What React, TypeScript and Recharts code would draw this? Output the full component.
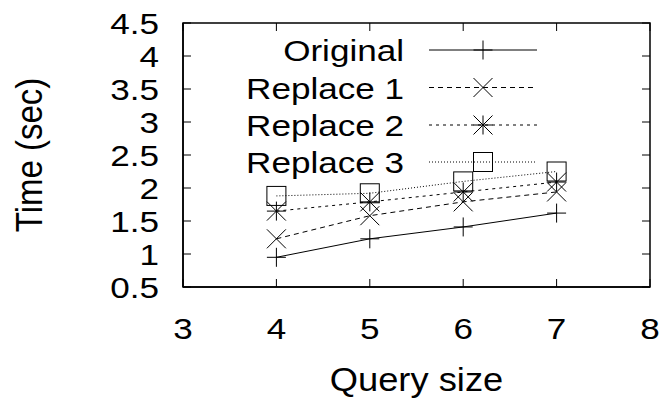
import React from 'react';
import { LineChart, Line, XAxis, YAxis, ReferenceArea } from 'recharts';

const querySizes = [4, 5, 6, 7];
const original = [0.95, 1.23, 1.41, 1.62];
const replace1 = [1.23, 1.58, 1.79, 1.94];
const replace2 = [1.65, 1.79, 1.94, 2.09];
const replace3 = [1.88, 1.92, 2.1, 2.25];
const xTicks = [3, 4, 5, 6, 7, 8];
const yTicks = [0.5, 1, 1.5, 2, 2.5, 3, 3.5, 4, 4.5];
const seriesNames = ['Original', 'Replace 1', 'Replace 2', 'Replace 3'];
const seriesKeys = ['original', 'replace1', 'replace2', 'replace3'];

const data = querySizes.map((q, i) => ({
  q,
  original: original[i],
  replace1: replace1[i],
  replace2: replace2[i],
  replace3: replace3[i],
}));

const W = 668;
const H = 403;
const MT = 23;
const MR = 18;
const XH = 116;
const YW = 183;
const PH = H - MT - XH;
const PW = W - MR - YW;

const FONT = 'Liberation Sans, Arial, Helvetica, sans-serif';
const FS = 30;
const SX = 1.17;
const TFS = 33;
const TSX = 1.1;
const TL = 8;
const M = 9.5;

type Kind = 'plus' | 'cross' | 'star' | 'square';
const kinds: Kind[] = ['plus', 'cross', 'star', 'square'];
const dashes = [undefined, '5 4', '3 4', '1 2'];

function SText({ x, y, anchor, size, sx, children, rotate }: any) {
  const tf = `translate(${x},${y}) scale(${sx},1)${rotate ? ` rotate(${rotate})` : ''}`;
  return (
    <text x={0} y={0} transform={tf} textAnchor={anchor} fontFamily={FONT} fontSize={size} fill="#000" stroke="none">
      {children}
    </text>
  );
}

function Marker({ cx, cy, kind }: { cx: number; cy: number; kind: Kind }) {
  if (cx == null || cy == null) return null;
  const s = { stroke: '#000', strokeWidth: 1, fill: 'none' };
  if (kind === 'plus')
    return (
      <g>
        <line x1={cx - M} y1={cy} x2={cx + M} y2={cy} {...s} />
        <line x1={cx} y1={cy - M} x2={cx} y2={cy + M} {...s} />
      </g>
    );
  if (kind === 'cross')
    return (
      <g>
        <line x1={cx - M} y1={cy - M} x2={cx + M} y2={cy + M} {...s} />
        <line x1={cx - M} y1={cy + M} x2={cx + M} y2={cy - M} {...s} />
      </g>
    );
  if (kind === 'star')
    return (
      <g>
        <line x1={cx - M} y1={cy} x2={cx + M} y2={cy} {...s} />
        <line x1={cx} y1={cy - M} x2={cx} y2={cy + M} {...s} />
        <line x1={cx - M} y1={cy - M} x2={cx + M} y2={cy + M} {...s} />
        <line x1={cx - M} y1={cy + M} x2={cx + M} y2={cy - M} {...s} />
      </g>
    );
  return <rect x={cx - M} y={cy - M} width={2 * M} height={2 * M} {...s} />;
}

// Stable (module-level) dot renderers so the chart store is not updated on every render.
const dotRenderers = kinds.map((kind) => (props: any) => (
  <Marker key={`${kind}-${props.index}`} cx={props.cx} cy={props.cy} kind={kind} />
));

const BottomTick = (props: any) => {
  const { x, y, payload } = props;
  return (
    <g>
      <line x1={x} y1={y} x2={x} y2={y - TL} stroke="#000" strokeWidth={1} />
      <line x1={x} y1={y - PH} x2={x} y2={y - PH + TL} stroke="#000" strokeWidth={1} />
      <SText x={x} y={y + 52} anchor="middle" size={FS} sx={SX}>{payload.value}</SText>
    </g>
  );
};
const LeftTick = (props: any) => {
  const { x, y, payload } = props;
  return (
    <g>
      <line x1={x} y1={y} x2={x + TL} y2={y} stroke="#000" strokeWidth={1} />
      <line x1={x + PW} y1={y} x2={x + PW - TL} y2={y} stroke="#000" strokeWidth={1} />
      <SText x={x - 24} y={y + 11} anchor="end" size={FS} sx={SX}>{payload.value}</SText>
    </g>
  );
};

const YLabel = (props: any) => {
  const vb = props.viewBox || { y: MT, height: PH };
  const cy = (vb.y ?? MT) + (vb.height ?? PH) / 2;
  return <SText x={42} y={cy} anchor="middle" size={TFS} sx={TSX} rotate={-90}>Time (sec)</SText>;
};

const XLabel = (props: any) => {
  const vb = props.viewBox || { x: YW, width: PW };
  const cx = (vb.x ?? YW) + (vb.width ?? PW) / 2;
  return <SText x={cx} y={391} anchor="middle" size={TFS} sx={TSX}>Query size</SText>;
};

const bottomTickEl = <BottomTick />;
const leftTickEl = <LeftTick />;
const xLabelEl = <XLabel />;
const yLabelEl = <YLabel />;
const axisLineStyle = { stroke: '#000', strokeWidth: 1.5 };
const chartMargin = { top: MT, right: MR, left: 0, bottom: 0 };

function LegendInChart() {
  const rowY = [50, 87.5, 125, 162];
  return (
    <g className="legend-in-chart">
      {seriesNames.map((n, i) => (
        <g key={n}>
          <SText x={404} y={rowY[i] + 11} anchor="end" size={FS} sx={SX}>{n}</SText>
          <line x1={429} x2={537} y1={rowY[i]} y2={rowY[i]} stroke="#000" strokeWidth={1} strokeDasharray={dashes[i]} />
          <Marker cx={483} cy={rowY[i]} kind={kinds[i]} />
        </g>
      ))}
    </g>
  );
}

export default function App() {
  return (
    <div style={{ position: 'absolute', left: 0, top: 0, width: W, height: H, background: '#fff' }}>
      <LineChart width={W} height={H} data={data} margin={chartMargin}>
        <XAxis dataKey="q" type="number" domain={[3, 8]} ticks={xTicks} interval={0}
          height={XH} tickSize={0} tickMargin={0} tickLine={false}
          axisLine={axisLineStyle} tick={bottomTickEl} label={xLabelEl} />
        <YAxis type="number" domain={[0.5, 4.5]} ticks={yTicks} interval={0}
          width={YW} tickSize={0} tickMargin={0} tickLine={false}
          axisLine={axisLineStyle} tick={leftTickEl} label={yLabelEl} />
        <ReferenceArea x1={3} x2={8} y1={0.5} y2={4.5} fill="none" fillOpacity={0} stroke="#000" strokeWidth={1.5} ifOverflow="visible" />
        {seriesKeys.map((k, i) => (
          <Line
            key={k}
            dataKey={k}
            name={seriesNames[i]}
            type="linear"
            stroke="#000"
            strokeWidth={1}
            strokeDasharray={dashes[i]}
            dot={dotRenderers[i]}
            isAnimationActive={false}
          />
        ))}
        <LegendInChart />
      </LineChart>
    </div>
  );
}
